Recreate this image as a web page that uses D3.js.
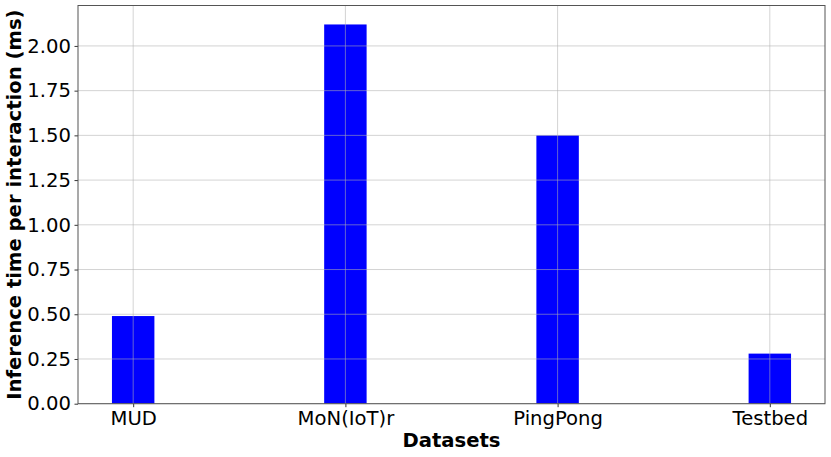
<!DOCTYPE html>
<html>
<head>
<meta charset="utf-8">
<script src="https://cdn.jsdelivr.net/npm/d3@7"></script>
<style>
  html, body { margin: 0; padding: 0; background: #fff; }
  svg { display: block; font-family: "DejaVu Sans", sans-serif; }
</style>
</head>
<body>
<svg id="chart" width="831" height="457"></svg>
<script>
const categories = ["MUD", "MoN(IoT)r", "PingPong", "Testbed"];
const values = [0.49, 2.12, 1.50, 0.28];
const yTicks = [0, 0.25, 0.5, 0.75, 1.0, 1.25, 1.5, 1.75, 2.0];
const xLabel = "Datasets";
const yLabel = "Inference time per interaction (ms)";

(function () {
const svg = d3.select("#chart");
const mLeft = 78, mRight = 825, mTop = 5.5, mBottom = 403.7;

const barW = 0.2;
const xMin = -barW / 2, xMax = categories.length - 1 + barW / 2;
const pad = (xMax - xMin) * 0.05;
const x = d3.scaleLinear().domain([xMin - pad, xMax + pad]).range([mLeft, mRight]);
const yMax = d3.max(values) * 1.05;
const y = d3.scaleLinear().domain([0, yMax]).range([mBottom, mTop]);

// bars
svg.append("g").selectAll("rect").data(values).join("rect")
  .attr("x", (d, i) => x(i - barW / 2))
  .attr("width", (d, i) => x(i + barW / 2) - x(i - barW / 2))
  .attr("y", d => y(d))
  .attr("height", d => y(0) - y(d))
  .attr("fill", "#0000ff");

// grid (drawn above bars)
const grid = svg.append("g").attr("stroke", "#b0b0b0").attr("stroke-opacity", 0.7).attr("stroke-width", 0.8);
yTicks.forEach(t => {
  grid.append("line").attr("x1", mLeft).attr("x2", mRight).attr("y1", y(t)).attr("y2", y(t));
});
categories.forEach((c, i) => {
  grid.append("line").attr("x1", x(i)).attr("x2", x(i)).attr("y1", mTop).attr("y2", mBottom);
});

// axes
const yAxis = d3.axisLeft(y).tickValues(yTicks).tickFormat(d3.format(".2f")).tickSize(3.5).tickPadding(3.5);
const gy = svg.append("g").attr("transform", `translate(${mLeft},0)`).call(yAxis);
const xAxis = d3.axisBottom(x).tickValues(d3.range(categories.length)).tickFormat(i => categories[i]).tickSize(3.5).tickPadding(3.5);
const gx = svg.append("g").attr("transform", `translate(0,${mBottom})`).call(xAxis);
[gx, gy].forEach(g => {
  g.select(".domain").remove();
  g.selectAll(".tick line").attr("stroke", "#000").attr("stroke-width", 0.8);
  g.selectAll(".tick text").attr("font-size", 19.6).attr("font-family", "DejaVu Sans").attr("fill", "#000");
});

// frame
svg.append("rect").attr("x", mLeft).attr("y", mTop).attr("width", mRight - mLeft).attr("height", mBottom - mTop)
  .attr("fill", "none").attr("stroke", "#555").attr("stroke-width", 1);

// labels
svg.append("text").attr("x", (mLeft + mRight) / 2).attr("y", 446.7).attr("text-anchor", "middle")
  .attr("font-size", 19.6).attr("font-weight", "bold").text(xLabel);
svg.append("text").attr("transform", `translate(20.5,${(mTop + mBottom) / 2}) rotate(-90)`).attr("text-anchor", "middle")
  .attr("font-size", 19.6).attr("font-weight", "bold").text(yLabel);
})();
</script>
</body>
</html>
